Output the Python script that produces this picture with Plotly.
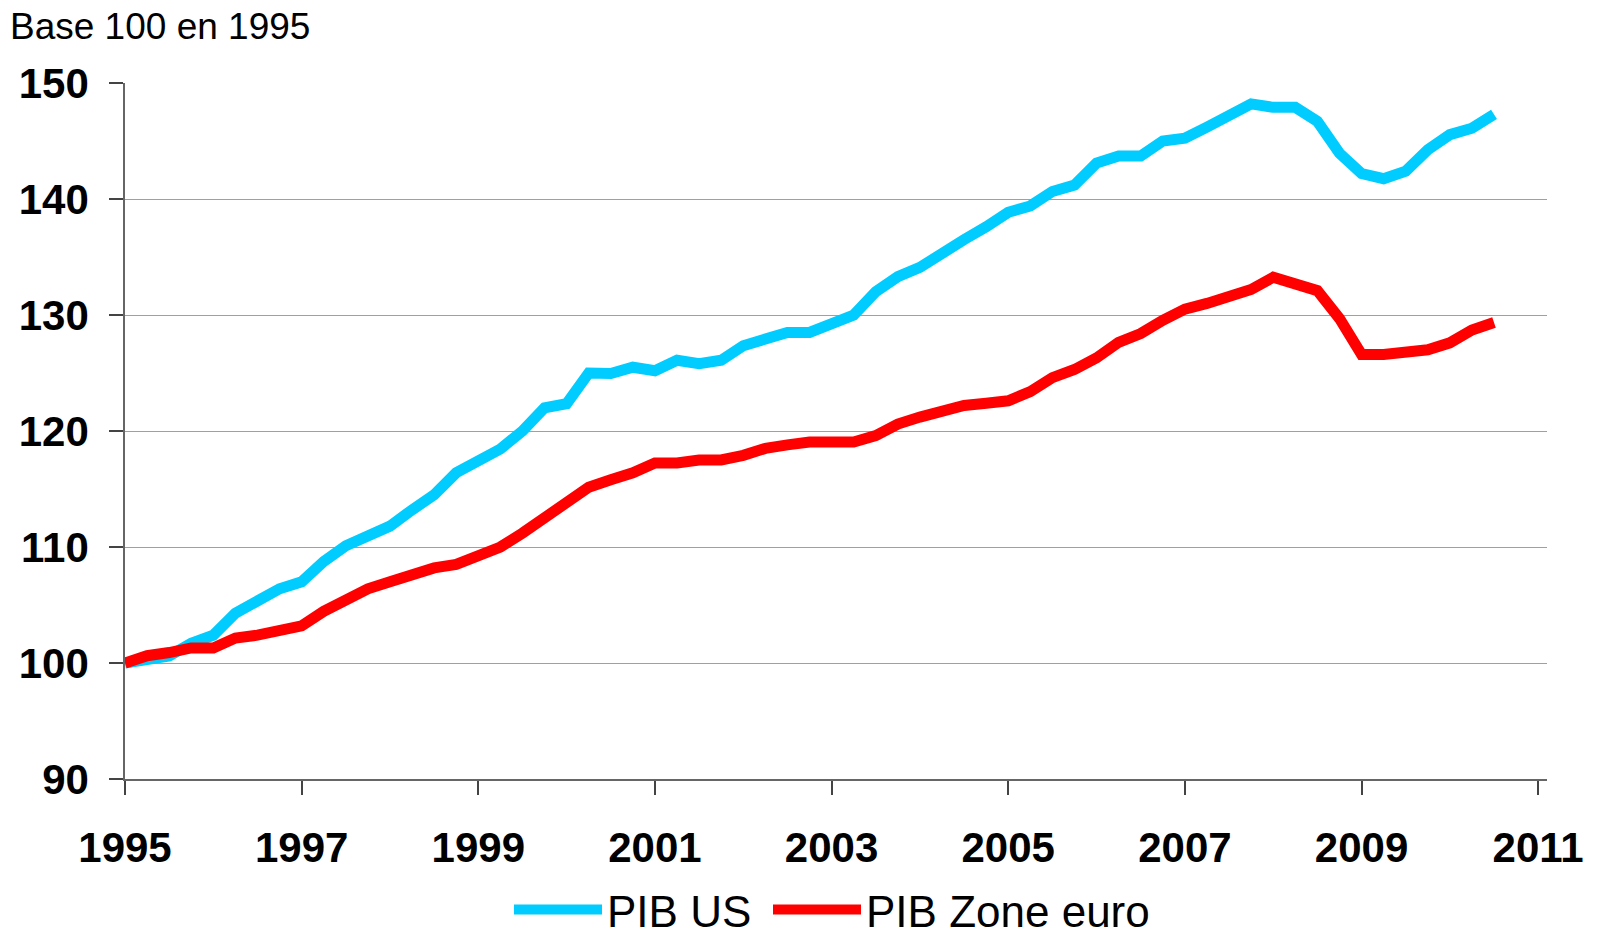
import plotly.graph_objects as go

# Quarterly GDP index, base 100 in 1995 (1995Q1 .. 2010Q3)
pib_us = [100.0, 100.2, 100.6, 101.7, 102.4, 104.3, 105.3, 106.4, 107.0, 108.75,
          110.1, 110.9, 111.8, 113.2, 114.5, 116.4, 117.4, 118.45, 120.0, 122.0,
          122.35, 125.0, 124.95, 125.5, 125.2, 126.1, 125.8, 126.1, 127.35, 127.9,
          128.5, 128.5, 129.15, 130.0, 132.0, 133.3, 134.1, 135.4, 136.5, 137.6,
          138.85, 139.4, 140.65, 141.2, 143.1, 143.7, 143.7, 145.0, 145.25, 146.2,
          147.1, 148.2, 147.9, 147.9, 146.7, 143.95, 142.2, 141.75, 142.4, 144.25,
          145.55, 146.1, 147.3]

pib_ze = [100.0, 100.63, 100.9, 101.3, 101.3, 102.15, 102.4, 102.9, 103.2, 104.45,
          105.5, 106.4, 107.0, 107.7, 108.2, 108.5, 109.3, 110.0, 111.2, 112.55,
          113.85, 115.15, 115.8, 116.4, 117.25, 117.25, 117.5, 117.5, 117.9, 118.5,
          118.8, 119.05, 119.05, 119.05, 119.6, 120.6, 121.2, 121.8, 122.2, 122.4,
          122.6, 123.4, 124.6, 125.3, 126.3, 127.65, 128.4, 129.55, 130.5, 131.0,
          131.65, 132.2, 133.25, 132.6, 132.1, 129.7, 126.6, 126.6, 126.8, 127.0,
          127.6, 128.7, 129.35]

start_year = 1995
quarters = [start_year + q / 4 for q in range(len(pib_us))]

x_ticks = [1995, 1997, 1999, 2001, 2003, 2005, 2007, 2009, 2011]
y_ticks = [90, 100, 110, 120, 130, 140, 150]

series_names = ["PIB US", "PIB Zone euro"]
series_colors = ["#00CCFF", "#FF0000"]
legend_widths = [156, 320]

FONT = "Liberation Sans, Arial, sans-serif"
W, H = 1589, 925  # page body adds an 8px margin
M_L, M_R, M_T, M_B = 117, 50, 75, 154
plot_h = H - M_T - M_B

fig = go.Figure()
for name, vals, col, lw in zip(series_names, [pib_us, pib_ze], series_colors, legend_widths):
    fig.add_trace(go.Scatter(x=quarters, y=vals, mode="lines", name=name,
                             legendwidth=lw,
                             line=dict(color=col, width=11)))

fig.update_layout(
    width=W, height=H,
    margin=dict(l=M_L, r=M_R, t=M_T, b=M_B, autoexpand=False),
    paper_bgcolor="white", plot_bgcolor="white",
    font=dict(family=FONT, color="black"),
    title=dict(text="Base 100 en 1995", font=dict(size=37, family=FONT, color="black"),
               x=2 / W, xanchor="left", xref="container",
               y=1 - 5 / H, yanchor="top", yref="container", pad=dict(t=0, l=0)),
    showlegend=True,
    legend=dict(orientation="h", x=501 / W, xanchor="left", xref="container",
                y=-131 / plot_h, yanchor="middle", yref="paper",
                itemwidth=88, entrywidthmode="pixels",
                font=dict(size=44, family=FONT, color="black"),
                tracegroupgap=0, bgcolor="rgba(0,0,0,0)"),
    xaxis=dict(range=[1995, 2011.1], tickvals=x_ticks, ticktext=[str(v) for v in x_ticks],
               automargin=False,
               showgrid=False, zeroline=False, showline=True, linecolor="#666666",
               linewidth=1.5, ticks="outside", ticklen=14, tickwidth=1.5,
               tickcolor="#444444", ticklabelstandoff=17,
               tickfont=dict(size=42, family=FONT, color="black", weight="bold")),
    yaxis=dict(range=[90, 150], tickvals=y_ticks, ticktext=[str(v) for v in y_ticks],
               automargin=False,
               showgrid=True, gridcolor="#A0A0A0", gridwidth=1.2, zeroline=False,
               showline=True, linecolor="#666666", linewidth=1.5,
               ticks="outside", ticklen=14, tickwidth=1.5, tickcolor="#444444",
               ticklabelstandoff=12,
               tickfont=dict(size=42, family=FONT, color="black", weight="bold")),
)

fig.write_html("out.html")
